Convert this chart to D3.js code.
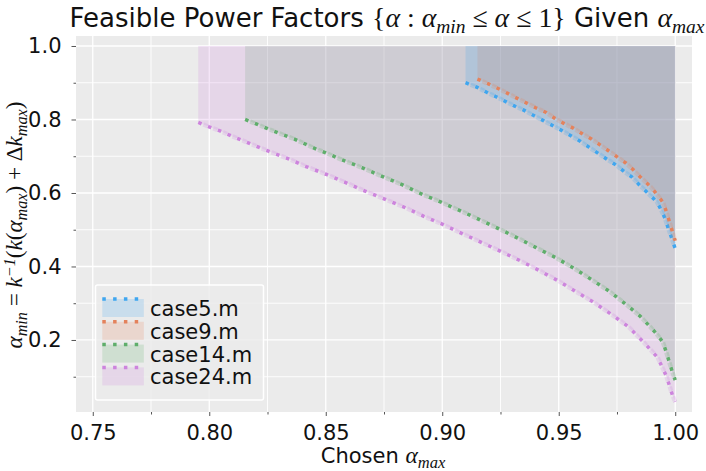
<!DOCTYPE html>
<html>
<head>
<meta charset="utf-8">
<script src="https://cdn.jsdelivr.net/npm/d3@7"></script>
<style>
  body { margin: 0; background: #fff; }
  text { white-space: pre; }
</style>
</head>
<body>
<svg width="706" height="471"></svg>
<script>
// chosen alpha_max (x) and resulting alpha_min (y) per case
var caseNames = ["case5.m", "case9.m", "case14.m", "case24.m"];
var caseColors = ["#3fa6ef", "#e4825c", "#5fae6b", "#cd84dd"];

var amax5 = [0.910, 0.9148, 0.9191, 0.9231, 0.9309, 0.9348, 0.9395, 0.9434, 0.9510, 0.9552, 0.9594, 0.9631,
             0.9702, 0.9746, 0.9781, 0.9813, 0.9846, 0.9880, 0.9921, 0.9938, 0.9956, 0.9970, 0.9985, 1.000];
var amin5 = [0.900, 0.888, 0.874, 0.862, 0.837, 0.826, 0.810, 0.797, 0.771, 0.756, 0.740, 0.724,
             0.694, 0.676, 0.658, 0.644, 0.622, 0.601, 0.576, 0.556, 0.531, 0.504, 0.477, 0.448];

var amax9 = [0.9151, 0.9198, 0.9244, 0.9281, 0.9320, 0.9355, 0.9401, 0.9446, 0.9484, 0.9520, 0.9558, 0.9599,
             0.9642, 0.9677, 0.9749, 0.9789, 0.9820, 0.9849, 0.9894, 0.9918, 0.9948, 0.9962, 0.9975, 0.9988, 1.000];
var amin9 = [0.910, 0.897, 0.883, 0.871, 0.858, 0.847, 0.832, 0.819, 0.803, 0.790, 0.778, 0.762,
             0.746, 0.731, 0.699, 0.681, 0.663, 0.644, 0.617, 0.599, 0.574, 0.549, 0.522, 0.495, 0.470];

var amax14 = [0.8154, 0.8201, 0.8247, 0.8294, 0.8368, 0.8450, 0.8497, 0.8579, 0.8655, 0.8747, 0.8830, 0.8905,
              0.8995, 0.9076, 0.9155, 0.9245, 0.9322, 0.9401, 0.9487, 0.9563, 0.9644, 0.9716, 0.9792, 0.9849,
              0.9892, 0.9918, 0.9947, 0.9961, 0.9975, 0.9988, 1.000];
var amin14 = [0.800, 0.788, 0.776, 0.764, 0.746, 0.722, 0.710, 0.688, 0.669, 0.644, 0.622, 0.599,
              0.575, 0.552, 0.529, 0.502, 0.478, 0.452, 0.424, 0.396, 0.363, 0.333, 0.295, 0.265,
              0.236, 0.218, 0.194, 0.168, 0.139, 0.112, 0.091];

var amax24 = [0.7953, 0.7999, 0.8046, 0.8092, 0.8161, 0.8249, 0.8344, 0.8415, 0.8501, 0.8594, 0.8669, 0.8750,
              0.8845, 0.8919, 0.9000, 0.9091, 0.9170, 0.9248, 0.9337, 0.9413, 0.9498, 0.9570, 0.9649, 0.9723,
              0.9799, 0.9863, 0.9925, 0.9963, 0.9989, 1.000];
var amin24 = [0.792, 0.780, 0.769, 0.756, 0.738, 0.715, 0.692, 0.672, 0.651, 0.626, 0.605, 0.584,
              0.559, 0.537, 0.515, 0.488, 0.465, 0.442, 0.415, 0.390, 0.361, 0.333, 0.303, 0.271,
              0.236, 0.195, 0.152, 0.100, 0.048, 0.032];

var xMajor = [0.75, 0.80, 0.85, 0.90, 0.95, 1.00];
var xMinor = [0.775, 0.825, 0.875, 0.925, 0.975];
var yMajor = [0.2, 0.4, 0.6, 0.8, 1.0];
var yMinor = [0.1, 0.3, 0.5, 0.7, 0.9];

var cases = [
    {name: caseNames[0], color: caseColors[0], x: amax5, y: amin5},
    {name: caseNames[1], color: caseColors[1], x: amax9, y: amin9},
    {name: caseNames[2], color: caseColors[2], x: amax14, y: amin14},
    {name: caseNames[3], color: caseColors[3], x: amax24, y: amin24}
];
// fills stacked so the overlap tints come out like the picture
var fillOrder = [2, 3, 1, 0];

var svg = d3.select('svg');
var pLeft = 76, pRight = 692, pTop = 36, pBottom = 412;
var font = "DejaVu Sans, sans-serif";
var mathFont = "Liberation Serif, DejaVu Serif, serif";
var fs = 21;

var xScale = d3.scaleLinear().domain([0.7428, 1.0072]).range([pLeft, pRight]);
var yScale = d3.scaleLinear().domain([0.004, 1.0272]).range([pBottom, pTop]);

svg.append('rect')
    .attr('x', pLeft).attr('y', pTop)
    .attr('width', pRight - pLeft).attr('height', pBottom - pTop)
    .attr('fill', '#ebebeb');

// grid, major and minor
var grid = svg.append('g');
grid.selectAll('.gx').data(xMajor.concat(xMinor)).enter().append('line')
    .attr('x1', function(d) { return xScale(d); }).attr('x2', function(d) { return xScale(d); })
    .attr('y1', pTop).attr('y2', pBottom)
    .attr('stroke', '#fff').attr('stroke-width', function(d) { return xMajor.indexOf(d) >= 0 ? 1.3 : 0.9; });
grid.selectAll('.gy').data(yMajor.concat(yMinor)).enter().append('line')
    .attr('y1', function(d) { return yScale(d); }).attr('y2', function(d) { return yScale(d); })
    .attr('x1', pLeft).attr('x2', pRight)
    .attr('stroke', '#fff').attr('stroke-width', function(d) { return yMajor.indexOf(d) >= 0 ? 1.3 : 0.9; });

// feasible regions: from alpha_min up to 1
var area = d3.area()
    .x(function(d) { return xScale(d[0]); })
    .y0(function(d) { return yScale(d[1]); })
    .y1(yScale(1.0));
var line = d3.line()
    .x(function(d) { return xScale(d[0]); })
    .y(function(d) { return yScale(d[1]); });

fillOrder.forEach(function(i) {
    var c = cases[i];
    svg.append('path').datum(d3.zip(c.x, c.y))
        .attr('d', area)
        .attr('fill', c.color).attr('fill-opacity', 0.2);
});

cases.forEach(function(c) {
    var pts = d3.zip(c.x, c.y);
    svg.append('path').datum(pts)
        .attr('d', line)
        .attr('fill', 'none').attr('stroke', c.color)
        .attr('stroke-width', 4.5).attr('stroke-opacity', 0.22)
        .attr('stroke-dasharray', '4.5 6').attr('stroke-dashoffset', -5.5);
    svg.append('path').datum(pts)
        .attr('d', line)
        .attr('fill', 'none').attr('stroke', c.color)
        .attr('stroke-width', 3.5)
        .attr('stroke-dasharray', '3.5 7');
});

// axes
function styleAxis(g) {
    g.select('.domain').remove();
    g.selectAll('.tick line').attr('stroke', '#555');
    g.selectAll('.tick text').attr('fill', '#111').style('font-family', font).style('font-size', fs + 'px');
}

svg.append('g')
    .attr('transform', 'translate(0,' + pBottom + ')')
    .call(d3.axisBottom(xScale).tickValues(xMajor).tickFormat(d3.format('.2f')).tickSize(4).tickPadding(9))
    .call(styleAxis);
svg.append('g')
    .attr('transform', 'translate(0,' + pBottom + ')')
    .call(d3.axisBottom(xScale).tickValues(xMinor).tickFormat('').tickSize(2.5))
    .call(styleAxis);
svg.append('g')
    .attr('transform', 'translate(' + pLeft + ',0)')
    .call(d3.axisLeft(yScale).tickValues(yMajor).tickFormat(d3.format('.1f')).tickSize(4.5).tickPadding(10))
    .call(styleAxis);
svg.append('g')
    .attr('transform', 'translate(' + pLeft + ',0)')
    .call(d3.axisLeft(yScale).tickValues(yMinor).tickFormat('').tickSize(2.5))
    .call(styleAxis);

// text with simple mathtext-like pieces
function richText(t, parts, size, mscale) {
    var shift = 0;
    var m = size * mscale;
    parts.forEach(function(p) {
        var s = t.append('tspan').text(p[0]);
        var want = 0;
        if (p[1] == 'sans') {
            s.style('font-family', font).style('font-size', size + 'px');
        } else {
            s.style('font-family', mathFont);
            if (p[1] != 'rm') s.style('font-style', 'italic');
            if (p[1] == 'sub') { want = 0.2 * m; s.style('font-size', (m * 0.7) + 'px'); }
            else if (p[1] == 'sup') { want = -0.3 * m; s.style('font-size', (m * 0.7) + 'px'); }
            else s.style('font-size', m + 'px');
        }
        if (want != shift) { s.attr('dy', want - shift); shift = want; }
    });
    return t;
}

richText(svg.append('text').attr('x', 387).attr('y', 27).attr('text-anchor', 'middle').attr('fill', '#111'), [
    ["Feasible Power Factors ", 'sans'], ["{", 'rm'], ["α", 'it'], [" : ", 'rm'], ["α", 'it'], ["min", 'sub'],
    [" ≤ ", 'rm'], ["α", 'it'], [" ≤ ", 'rm'], ["1", 'rm'], ["}", 'rm'], [" Given ", 'sans'], ["α", 'it'], ["max", 'sub']
], 26, 1.07);

richText(svg.append('text').attr('x', 383).attr('y', 463).attr('text-anchor', 'middle').attr('fill', '#111'), [
    ["Chosen ", 'sans'], ["α", 'it'], ["max", 'sub']
], fs, 1.12);

richText(svg.append('text').attr('transform', 'translate(22,225) rotate(-90)').attr('text-anchor', 'middle').attr('fill', '#111'), [
    ["α", 'it'], ["min", 'sub'], [" = ", 'rm'], ["k", 'it'], ["−1", 'sup'], ["(", 'rm'], ["k", 'it'], ["(", 'rm'],
    ["α", 'it'], ["max", 'sub'], [")", 'rm'], [" + ", 'rm'], ["Δ", 'rm'], ["k", 'it'], ["max", 'sub'], [")", 'rm']
], fs, 1.1);

// legend
var legend = svg.append('g');
legend.append('rect')
    .attr('x', 95.5).attr('y', 285).attr('width', 168).attr('height', 115).attr('rx', 2)
    .attr('fill', '#ebebeb').attr('fill-opacity', 0.85)
    .attr('stroke', '#fff').attr('stroke-width', 1.5);
cases.forEach(function(c, i) {
    var y0 = 299 + 22.8 * i;
    legend.append('rect')
        .attr('x', 102.3).attr('y', y0).attr('width', 41.5).attr('height', 18)
        .attr('fill', c.color).attr('fill-opacity', 0.2);
    legend.append('line')
        .attr('x1', 102.3).attr('x2', 143.5).attr('y1', y0).attr('y2', y0)
        .attr('stroke', c.color).attr('stroke-width', 3.5)
        .attr('stroke-dasharray', '3.5 7.3');
    legend.append('text')
        .attr('x', 150).attr('y', y0 + 17)
        .style('font-family', font).style('font-size', fs + 'px').attr('fill', '#111')
        .text(c.name);
});
</script>
</body>
</html>
